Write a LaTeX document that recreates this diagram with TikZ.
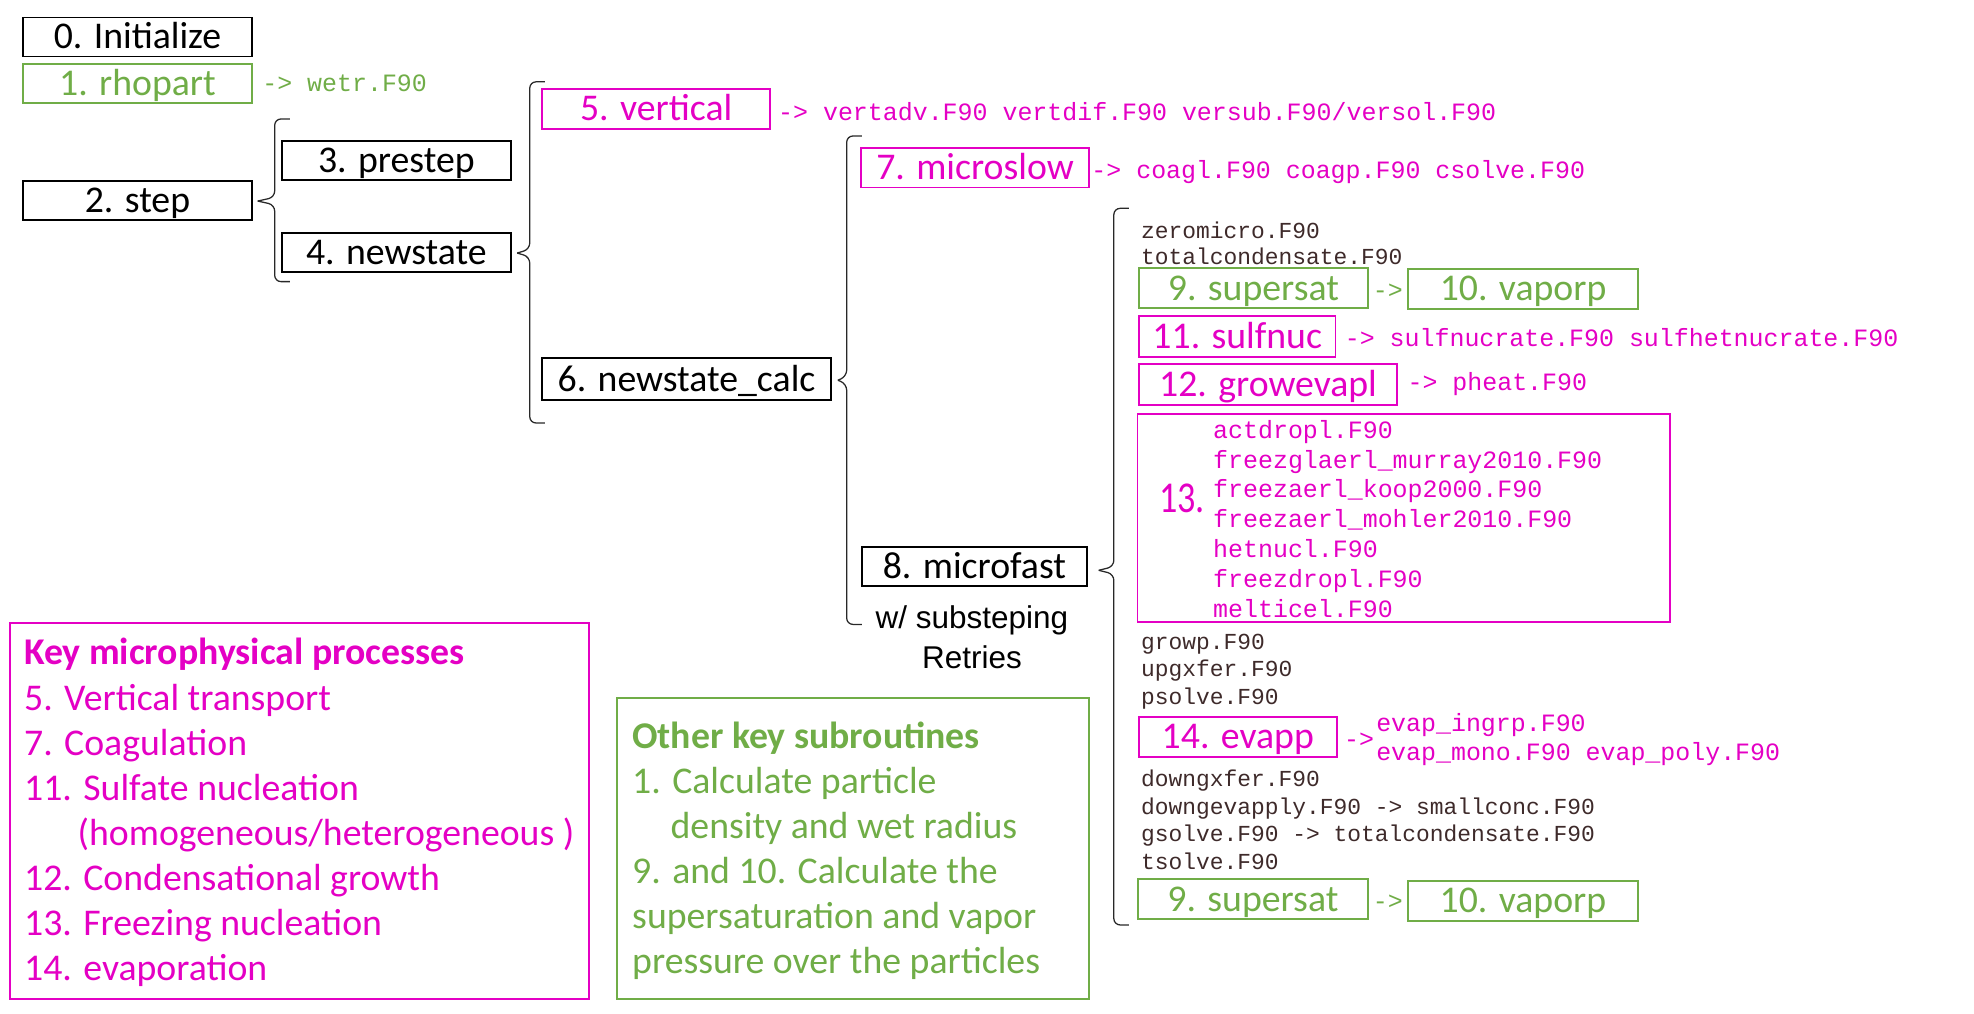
\documentclass[tikz,border=0pt]{standalone}
\usepackage{fontspec}
\usepackage{graphicx}
\setmainfont{Carlito}
\newfontfamily\monof{Liberation Mono}
\newfontfamily\arialf{Liberation Sans}
\usetikzlibrary{calc}
\definecolor{mag}{RGB}{228,0,196}
\definecolor{grn}{RGB}{112,173,71}
\definecolor{brn}{RGB}{62,42,42}
\definecolor{brk}{RGB}{40,40,40}
\tikzset{
 box/.style={draw, line width=1.5pt, inner sep=0pt, minimum height=31pt, text height=19pt, text depth=0pt, font=\fontsize{30}{36}\selectfont},
 blk/.style={box, draw=black, text=black},
 mg/.style={box, draw=mag, text=mag},
 gr/.style={box, draw=grn, text=grn},
 mono/.style={inner sep=0pt, anchor=west, font=\monof\fontsize{19.8}{23.8}\selectfont, text height=13pt, text depth=0pt},
 lst/.style={inner sep=0pt, anchor=west, text=brn, font=\monof\fontsize{18.2}{21.6}\selectfont, text height=12pt, text depth=0pt},
 leg/.style={inner sep=0pt, anchor=base west, font=\fontsize{30}{36}\selectfont},
 legbox/.style={line width=1.5pt, inner sep=0pt},
 bracestyle/.style={draw=brk, line width=1pt, rounded corners=5pt},
}
\newcommand{\mybrace}[4]{%
 \draw[bracestyle] (#1) -- ++(#2,-3) |- ++(12,-#3+3);
 \draw[bracestyle] (#1) -- ++(#2,3) |- ++(12,#4-3);
}
\begin{document}
\begin{tikzpicture}[x=1pt,y=-1pt]
\useasboundingbox (0,0) rectangle (1568,805);

% main boxes
\node[blk, minimum width=181.5pt] (init) at (109.2,29.4) {0. Initialize};
\node[gr, minimum width=181.5pt] (rho) at (109.2,66) {1. rhopart};
\node[blk, minimum width=181.5pt] (step) at (109.2,159) {2. step};
\node[blk, minimum width=181.5pt] (prestep) at (314.8,127.4) {3. prestep};
\node[blk, minimum width=181.5pt] (newstate) at (314.8,200.3) {4. newstate};
\node[mg, minimum width=181pt, minimum height=32pt] (vertical) at (521.2,86.4) {5. vertical};
\node[blk, minimum width=230pt, minimum height=33pt] (calc) at (545.3,301.2) {6. newstate\_calc};
\node[mg, minimum width=181pt] (microslow) at (774.5,133.4) {7. microslow};
\node[blk, minimum width=179pt] (microfast) at (774,450) {8. microfast};
\node[gr, minimum width=181.6pt, minimum height=31.8pt] (supA) at (995.6,229) {9. supersat};
\node[gr, minimum width=183pt, minimum height=31.8pt] (vapA) at (1209.8,229.5) {10. vaporp};
\node[mg, minimum width=156pt, minimum height=32.3pt] (sulfnuc) at (982.8,267.2) {11. sulfnuc};
\node[mg, minimum width=204.8pt, minimum height=33pt] (growevapl) at (1007.2,305.5) {12. growevapl};
\node[draw=mag, line width=1.5pt, inner sep=0pt, minimum width=423pt, minimum height=165pt] (box13) at (1115,411.7) {};
\node[mg, minimum width=157pt, minimum height=31.3pt] (evapp) at (983.2,585.3) {14. evapp};
\node[gr, minimum width=182.5pt, minimum height=31.6pt] (supB) at (995.2,714.2) {9. supersat};
\node[gr, minimum width=182.6pt, minimum height=32pt] (vapB) at (1209.7,715.5) {10. vaporp};

% arrow texts
\node[mono, text=grn] (wetr) at ($(rho.east)+(7.5,0.2)$) {-> wetr.F90};
\node[mono, text=mag] (vertfiles) at ($(vertical.east)+(5.5,3)$) {-> vertadv.F90 vertdif.F90 versub.F90/versol.F90};
\node[mono, text=mag] (slowfiles) at ($(microslow.east)+(1,1.6)$) {-> coagl.F90 coagp.F90 csolve.F90};
\node[mono, text=grn, anchor=center] (arrA) at ($(supA.east)!0.5!(vapA.west)+(0,1)$) {->};
\node[mono, text=mag] (sulffiles) at ($(sulfnuc.east)+(6.5,1.5)$) {-> sulfnucrate.F90 sulfhetnucrate.F90};
\node[mono, text=mag] (heatfiles) at ($(growevapl.east)+(7.5,-1.5)$) {-> pheat.F90};
\node[mono, text=mag] (arrE) at ($(evapp.east)+(5,1.7)$) {->};
\node[mono, text=mag] (evap1) at (1093,574.5) {evap\_ingrp.F90};
\node[mono, text=mag] (evap2) at (1093,597.8) {evap\_mono.F90 evap\_poly.F90};
\node[mono, text=grn, anchor=center] (arrB) at ($(supB.east)!0.5!(vapB.west)+(0,1)$) {->};

% box 13 content
\node[inner sep=0pt, text=mag, font=\fontsize{35}{40}\selectfont] (n13) at (939,395.5) {\scalebox{0.82}[1]{13.}};
\foreach \t [count=\i from 0] in {actdropl.F90, freezglaerl\_murray2010.F90, freezaerl\_koop2000.F90, freezaerl\_mohler2010.F90, hetnucl.F90, freezdropl.F90, melticel.F90}
  \node[mono, text=mag] (f13-\i) at (963.5,341.5+23.75*\i) {\t};

% brown lists
\node[lst] (l1) at (906.3,183.2) {zeromicro.F90};
\node[lst] (l2) at (906.3,203.9) {totalcondensate.F90};
\node[lst] (l3) at (906.3,509.7) {growp.F90};
\node[lst] (l4) at (906.3,531.6) {upgxfer.F90};
\node[lst] (l5) at (906.3,553.4) {psolve.F90};
\node[lst] (l6) at (906.3,619) {downgxfer.F90};
\node[lst] (l7) at (906.3,640.7) {downgevapply.F90 -> smallconc.F90};
\node[lst] (l8) at (906.3,662.7) {gsolve.F90 -> totalcondensate.F90};
\node[lst] (l9) at (906.3,684.4) {tsolve.F90};

% substepping note
\node[inner sep=0pt, anchor=base, font=\arialf\fontsize{25}{32}\selectfont] (sub1) at (772,499) {w/ substeping};
\node[inner sep=0pt, anchor=base, font=\arialf\fontsize{25}{32}\selectfont] (sub2) at (772,531) {Retries};

% braces
\coordinate (tipStep) at ($(step.east)+(4,0.7)$);
\coordinate (tipNew) at ($(newstate.east)+(4.5,0.7)$);
\coordinate (tipCalc) at ($(calc.east)+(4.5,0.8)$);
\coordinate (tipFast) at ($(microfast.east)+(8.5,3)$);
\mybrace{tipStep}{13.5}{65.2}{64}
\mybrace{tipNew}{10}{136}{135}
\mybrace{tipCalc}{7}{194}{194}
\mybrace{tipFast}{12}{287.5}{281.7}

% legend boxes
\node[draw=mag, legbox, minimum width=460.4pt, minimum height=298.9pt] (keybox) at (237.8,644) {};
\node[leg, text=mag, font=\bfseries\fontsize{30}{36}\selectfont] (k0) at (19,528.2) {Key microphysical processes};
\node[leg, text=mag] (k1) at (19,564) {5. Vertical transport};
\node[leg, text=mag] (k2) at (19,599.8) {7. Coagulation};
\node[leg, text=mag] (k3) at (19,635.6) {11. Sulfate nucleation};
\node[leg, text=mag] (k4) at (61.5,671.4) {(homogeneous/heterogeneous )};
\node[leg, text=mag] (k5) at (19,707.2) {12. Condensational growth};
\node[leg, text=mag] (k6) at (19,743) {13. Freezing nucleation};
\node[leg, text=mag] (k7) at (19,778.8) {14. evaporation};

\node[draw=grn, legbox, minimum width=375.2pt, minimum height=239pt] (otherbox) at (677.4,674) {};
\node[leg, text=grn, font=\bfseries\fontsize{30}{36}\selectfont] (o0) at (502,594.4) {Other key subroutines};
\node[leg, text=grn] (o1) at (502,630.1) {1. Calculate particle};
\node[leg, text=grn] (o2) at (532.5,665.8) {density and wet radius};
\node[leg, text=grn] (o3) at (502,701.5) {9. and 10. Calculate the};
\node[leg, text=grn] (o4) at (502,737.2) {supersaturation and vapor};
\node[leg, text=grn] (o5) at (502,772.9) {pressure over the particles};
\end{tikzpicture}
\end{document}
